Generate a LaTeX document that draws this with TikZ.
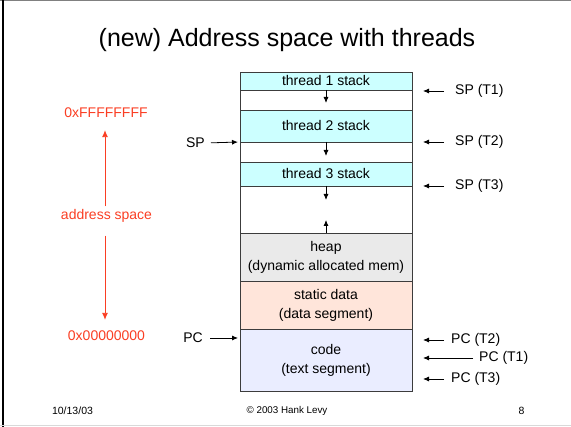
\documentclass[tikz,border=0pt]{standalone}
\usepackage{fontspec}
\setmainfont{Liberation Sans}
\usetikzlibrary{arrows.meta}
\definecolor{stackc}{RGB}{204,255,255}
\definecolor{heapc}{RGB}{234,234,234}
\definecolor{datac}{RGB}{255,229,218}
\definecolor{codec}{RGB}{234,237,255}
\definecolor{redc}{RGB}{250,62,35}
\definecolor{edgec}{RGB}{60,60,60}
\begin{document}
\begin{tikzpicture}[x=1pt,y=-1pt,
  seg/.style={draw=edgec,line width=0.8pt,anchor=north west,minimum width=172pt,inner sep=0pt,outer sep=0pt,align=center,font=\fontsize{14}{19}\selectfont},
  arr/.style={-{Latex[length=6pt,width=5pt]},line width=0.8pt,black},
  redarr/.style={-{Latex[length=7pt,width=6pt]},line width=0.9pt,redc},
  lab/.style={font=\fontsize{14}{17}\selectfont,inner sep=0pt},
  redlab/.style={font=\fontsize{14}{17}\selectfont,inner sep=0pt,text=redc},
  foot/.style={font=\fontsize{10.5}{12}\selectfont,inner sep=0pt}]
\useasboundingbox (0,0) rectangle (571,427);
% slide frame
\draw[gray,line width=1.2pt] (0,0.6) -- (571,0.6);
\draw[black,line width=1.2pt] (3,0) -- (3,427);
\draw[black!15,line width=1pt] (0,425.5) -- (571,425.5);
% title
\node[inner sep=0pt,font=\fontsize{25}{30}\selectfont] (title) at (287,40) {(new) Address space with threads};
% memory segments
\node[seg,fill=stackc,minimum height=18pt] (t1) at (240,72) {thread 1 stack};
\node[seg,fill=white,minimum height=20pt] (w1) at (240,90) {};
\node[seg,fill=stackc,minimum height=32pt] (t2) at (240,110) {thread 2 stack};
\node[seg,fill=white,minimum height=20pt] (w2) at (240,142) {};
\node[seg,fill=stackc,minimum height=24pt] (t3) at (240,162) {thread 3 stack};
\node[seg,fill=white,minimum height=47pt] (w3) at (240,186) {};
\node[seg,fill=heapc,minimum height=48pt] (heap) at (240,233) {heap\\(dynamic allocated mem)};
\node[seg,fill=datac,minimum height=48pt] (data) at (240,281) {static data\\(data segment)};
\node[seg,fill=codec,minimum height=62pt] (code) at (240,329) {code\\(text segment)};
% growth arrows
\draw[arr] (w1.north) -- ++(0,13);
\draw[arr] (w2.north) -- ++(0,14);
\draw[arr] (w3.north) -- ++(0,14);
\draw[arr] (heap.north) -- ++(0,-13);
% left pointers
\node[lab,anchor=east] (sp) at (205,143) {SP};
\draw[arr,shorten <=6pt,shorten >=2pt] (sp.east) -- (t2.south west);
\node[lab,anchor=east] (pc) at (203,338) {PC};
\draw[arr,shorten <=7pt,shorten >=2pt] (pc.east) -- (code.west |- pc.east);
% right pointers
\node[lab,anchor=west] (spt1) at (455,91) {SP (T1)};
\node[lab,anchor=west] (spt2) at (455,142) {SP (T2)};
\node[lab,anchor=west] (spt3) at (455,186) {SP (T3)};
\node[lab,anchor=west] (pct2) at (451,340) {PC (T2)};
\node[lab,anchor=west] (pct1) at (479,358) {PC (T1)};
\node[lab,anchor=west] (pct3) at (451,379) {PC (T3)};
\draw[arr,shorten <=11pt,shorten >=11pt] (spt1.west) -- (t1.east |- spt1.west);
\draw[arr,shorten <=11pt,shorten >=11pt] (spt2.west) -- (t2.east |- spt2.west);
\draw[arr,shorten <=11pt,shorten >=11pt] (spt3.west) -- (t3.east |- spt3.west);
\draw[arr,shorten <=7pt,shorten >=11pt] (pct2.west) -- (code.east |- pct2.west);
\draw[arr,shorten <=6pt,shorten >=11pt] (pct1.west) -- (code.east |- pct1.west);
\draw[arr,shorten <=7pt,shorten >=11pt] (pct3.west) -- (code.east |- pct3.west);
% address space
\node[redlab] (hi) at (106,113) {0xFFFFFFFF};
\node[redlab] (addr) at (106.5,216) {address space};
\node[redlab] (lo) at (106.5,336) {0x00000000};
\draw[redarr,shorten <=3pt,shorten >=12pt] ([xshift=-1.5pt]addr.north) -- ([xshift=-1.5pt]addr.north |- hi.south);
\draw[redarr,shorten <=13pt,shorten >=11pt] ([xshift=-1.5pt]addr.south) -- ([xshift=-1.5pt]addr.south |- lo.north);
% footer
\node[foot] (date) at (72.5,411) {10/13/03};
\node[foot,font=\fontsize{9.8}{12}\selectfont] (copy) at (287,411) {© 2003 Hank Levy};
\node[foot] (page) at (521.5,411) {8};
\end{tikzpicture}
\end{document}
